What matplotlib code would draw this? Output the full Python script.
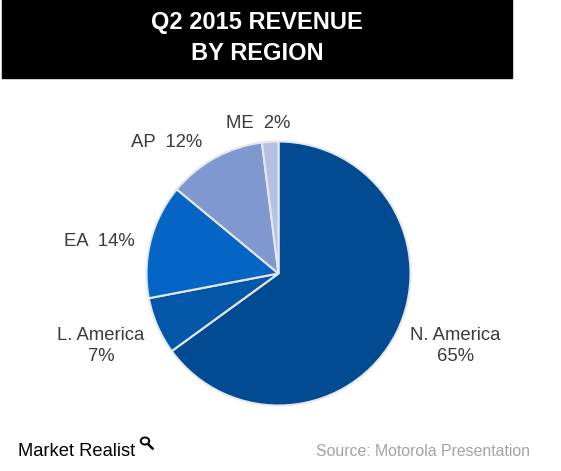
import matplotlib.pyplot as plt
from matplotlib.patches import Rectangle, Circle
from matplotlib.lines import Line2D

# --- data ---
regions = ["N. America", "L. America", "EA", "AP", "ME"]
shares = [65, 7, 14, 12, 2]
label_text = ["N. America\n65%", "L. America\n7%", "EA  14%", "AP  12%", "ME  2%"]

# --- style / layout ---
colors = ["#024a92", "#0457a8", "#0565c4", "#8098d0", "#b4c1e3"]
label_xy = [(1.34, -0.55), (-1.345, -0.55), (-1.356, 0.239), (-0.848, 0.996), (-0.152, 1.133)]

W, H = 561, 471
fig = plt.figure(figsize=(W / 100, H / 100), dpi=100)
plt.rcParams["font.family"] = ["Liberation Sans", "DejaVu Sans"]

# black title banner
fig.patches.append(Rectangle((2 / W, 1 - 78 / H), 510 / W, 78 / H,
                             transform=fig.transFigure, color="black", zorder=0))
fig.text(257 / W, 1 - 23 / H, "Q2 2015 REVENUE", color="white", fontsize=17,
         fontweight="bold", ha="center", va="center")
fig.text(257 / W, 1 - 53 / H, "BY REGION", color="white", fontsize=17,
         fontweight="bold", ha="center", va="center")

# pie
cx, cy, r = 278.5, 273.5, 132
ax = fig.add_axes([(cx - r) / W, 1 - (cy + r) / H, 2 * r / W, 2 * r / H])
ax.pie(shares, colors=colors, startangle=90, counterclock=False,
       wedgeprops=dict(edgecolor="#e6e8ee", linewidth=1.5))
ax.set_xlim(-1, 1)
ax.set_ylim(-1, 1)
ax.axis("off")

for txt, (x, y) in zip(label_text, label_xy):
    ax.text(x, y, txt, ha="center", va="center", fontsize=13.3,
            color="#3a3a3a", linespacing=1.3)

# footer
fig.text(18 / W, 1 - 451 / H, "Market Realist", fontsize=13.2, color="black",
         ha="left", va="center", fontstretch="condensed")
fig.patches.append(Circle((145 / W, 1 - 441 / H), 4.2 / W, transform=fig.transFigure,
                          fill=False, edgecolor="black", linewidth=1.4))
fig.lines.append(Line2D([148.5 / W, 152.5 / W], [1 - 444.5 / H, 1 - 448.5 / H],
                        transform=fig.transFigure, color="black", linewidth=1.8))
fig.text(530 / W, 1 - 452 / H, "Source: Motorola Presentation", fontsize=11.4,
         color="#a3a3a3", ha="right", va="center")

fig.savefig("out.png", dpi=100)
